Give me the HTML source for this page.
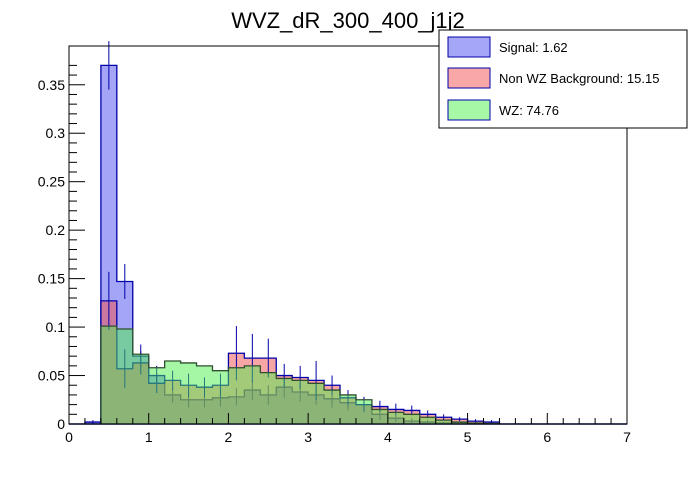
<!DOCTYPE html>
<html><head><meta charset="utf-8"><style>
body{margin:0;background:#fff;font-family:"Liberation Sans",sans-serif}
svg text{font-family:"Liberation Sans",sans-serif}
</style></head><body>
<svg id="c" width="696" height="472" xmlns="http://www.w3.org/2000/svg">
<rect width="696" height="472" fill="#fff"/>
<text x="348" y="28" text-anchor="middle" font-size="22">WVZ_dR_300_400_j1j2</text>
<g id="marks"></g>
<g id="axes"></g>
<g>
<rect x="439" y="30" width="248" height="98" fill="#fff" stroke="#000"/>
<rect x="448" y="37" width="42" height="20" fill="#a6a6f7" stroke="#0000aa"/>
<text x="499" y="52" font-size="13">Signal: 1.62</text>
<rect x="448" y="68" width="42" height="20" fill="#f9a8a8" stroke="#0000aa"/>
<text x="499" y="83" font-size="13">Non WZ Background: 15.15</text>
<rect x="448" y="100" width="42" height="20" fill="#a6f7a6" stroke="#0000aa"/>
<text x="499" y="115" font-size="13">WZ: 74.76</text>
</g>
</svg>
<script>
const binEdges0 = 0.0, binWidth = 0.2;
const signalVals = [0,0.002,0.37,0.147,0.070,0.050,0.030,0.025,0.025,0.027,0.028,0.035,0.030,0.038,0.033,0.030,0.026,0.022,0.020,0.010,0.006,0.003,0.002,0.001,0.001,0,0,0,0,0,0,0,0,0,0];
const signalErr = [0,0.002,0.025,0.018,0.012,0.01,0.008,0.008,0.008,0.009,0.009,0.01,0.01,0.011,0.01,0.01,0.009,0.008,0.008,0.006,0.004,0.003,0.002,0.001,0.001,0,0,0,0,0,0,0,0,0,0];
const nonwzVals = [0,0,0.127,0.057,0.063,0.042,0.045,0.040,0.038,0.040,0.073,0.068,0.068,0.050,0.048,0.045,0.040,0.027,0.020,0.018,0.015,0.014,0.010,0.007,0.005,0.003,0.002,0,0,0,0,0,0,0,0];
const nonwzErr = [0,0,0.03,0.02,0.012,0.01,0.01,0.012,0.01,0.012,0.028,0.025,0.02,0.012,0.012,0.02,0.01,0.008,0.007,0.006,0.006,0.005,0.004,0.003,0.002,0.002,0.002,0,0,0,0,0,0,0,0];
const wzVals = [0,0,0.101,0.098,0.072,0.058,0.065,0.063,0.060,0.055,0.058,0.060,0.053,0.047,0.045,0.042,0.035,0.030,0.025,0.015,0.012,0.010,0.007,0.004,0.002,0.001,0.0005,0,0,0,0,0,0,0,0];
const xTicks = [0,1,2,3,4,5,6,7];
const yTicks = [0,0.05,0.1,0.15,0.2,0.25,0.3,0.35];
const yTickLabels = ["0","0.05","0.1","0.15","0.2","0.25","0.3","0.35"];

const X0=69,X1=627,Y0=424,Y1=46, xmax=7, ymax=0.39;
const sx=v=>X0+(X1-X0)*v/xmax;
const sy=v=>Y0-(Y0-Y1)*v/ymax;
const NS="http://www.w3.org/2000/svg";
const marks=document.getElementById('marks'), axes=document.getElementById('axes');
function mk(tag,attrs,parent){const e=document.createElementNS(NS,tag);for(const k in attrs)e.setAttribute(k,attrs[k]);parent.appendChild(e);return e;}
function stepPath(vals){let d=`M${sx(binEdges0)},${sy(0)}`;vals.forEach((v,i)=>{const a=sx(binEdges0+i*binWidth),b=sx(binEdges0+(i+1)*binWidth);d+=`L${a},${sy(v)}L${b},${sy(v)}`;});d+=`L${sx(binEdges0+vals.length*binWidth)},${sy(0)}Z`;return d;}
function series(vals,errs,fill,stroke,name){
  const p=mk('path',{d:stepPath(vals),fill:fill,'fill-opacity':0.5,stroke:stroke,'stroke-width':1.3},marks);
  
  
  if(errs) vals.forEach((v,i)=>{if(!v)return;const cx=sx(binEdges0+(i+0.5)*binWidth);
    const l=mk('line',{x1:cx,x2:cx,y1:sy(v+errs[i]),y2:sy(Math.max(0,v-errs[i])),stroke:stroke,'stroke-width':1},marks);
    
    });
}
series(signalVals,signalErr,'#4c4cf0','#0000aa','signal');
series(nonwzVals,nonwzErr,'#f24c4c','#0000aa','nonwz');
series(wzVals,null,'#4cf04c','#2f4f2f','wz');
const frame=mk('rect',{x:X0,y:Y1,width:X1-X0,height:Y0-Y1,fill:'none',stroke:'#000'},axes);


for(let v=0;v<=7.0001;v+=0.2){const big=Math.abs(v-Math.round(v))<1e-6;mk('line',{x1:sx(v),x2:sx(v),y1:Y0,y2:Y0-(big?11:6),stroke:'#000'},axes);}
xTicks.forEach(v=>{const t=mk('text',{x:sx(v),y:Y0+18,'text-anchor':'middle','font-size':14},axes);t.textContent=v;
  
  });
for(let v=0;v<=0.38;v+=0.01){const big=Math.abs(v/0.05-Math.round(v/0.05))<1e-6;mk('line',{x1:X0,x2:X0+(big?16:8),y1:sy(v),y2:sy(v),stroke:'#000'},axes);}
yTicks.forEach((v,i)=>{const t=mk('text',{x:X0-4,y:sy(v)+5,'text-anchor':'end','font-size':14},axes);t.textContent=yTickLabels[i];
  
  });
</script>
</body></html>
